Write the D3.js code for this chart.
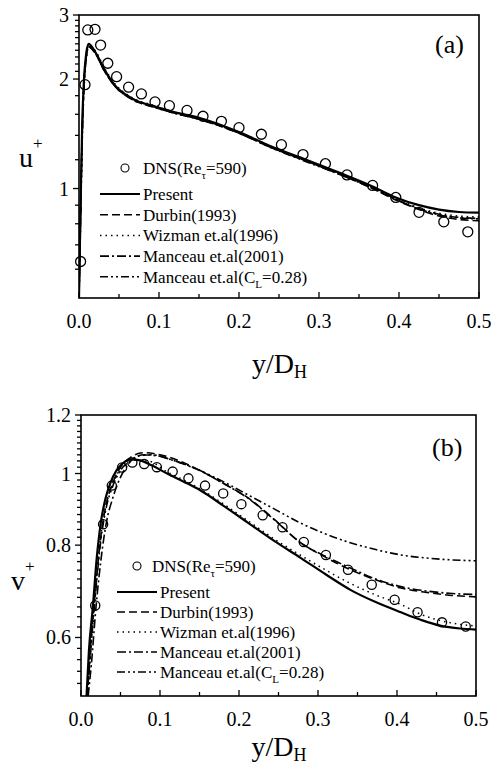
<!DOCTYPE html>
<html lang="en">
<head>
<meta charset="utf-8">
<title>u+ and v+ profiles</title>
<script src="https://cdn.jsdelivr.net/npm/d3@7"></script>
<style>
  body { margin: 0; background: #fff; }
  svg, svg text { font-family: "Liberation Serif", "DejaVu Serif", "Times New Roman", Times, serif; }
  .frame { fill: none; stroke: #000; stroke-width: 1.6; }
  .tick { stroke: #000; stroke-width: 1.3; }
</style>
</head>
<body>
<script>
// x axis (both panels)
var xTicks = [0, 0.1, 0.2, 0.3, 0.4, 0.5];
var xMinor = [0.05, 0.15, 0.25, 0.35, 0.45];

// panel (a): u+
var uTicks = [1, 2, 3];
var uMinor = [0.6, 0.7, 0.8, 0.9, 1.2, 1.4, 1.6, 1.8, 2.1, 2.2, 2.3, 2.4, 2.5, 2.6, 2.7, 2.8, 2.9];
var uDnsX = [0.002, 0.0075, 0.011, 0.02, 0.027, 0.036, 0.047, 0.062, 0.078, 0.095, 0.113, 0.135, 0.155, 0.178, 0.2, 0.228, 0.253, 0.28, 0.308, 0.335, 0.367, 0.396, 0.425, 0.456, 0.486];
var uDnsY = [0.63, 1.93, 2.73, 2.74, 2.48, 2.21, 2.03, 1.9, 1.82, 1.73, 1.69, 1.64, 1.58, 1.53, 1.47, 1.41, 1.32, 1.24, 1.17, 1.09, 1.02, 0.945, 0.86, 0.81, 0.76];
var uLineX = [0, 0.002, 0.004, 0.006, 0.009, 0.012, 0.02, 0.032, 0.045, 0.066, 0.095, 0.12, 0.15, 0.2, 0.242, 0.284, 0.325, 0.367, 0.396, 0.425, 0.45, 0.475, 0.5];
var uPresent   = [0.5, 0.9, 1.5, 1.95, 2.35, 2.5, 2.38, 2.12, 1.92, 1.77, 1.68, 1.62, 1.565, 1.43, 1.3, 1.2, 1.106, 1.013, 0.945, 0.9, 0.875, 0.862, 0.858];
var uDurbin    = [0.5, 0.85, 1.4, 1.9, 2.3, 2.45, 2.36, 2.1, 1.91, 1.76, 1.67, 1.61, 1.55, 1.42, 1.29, 1.19, 1.095, 1.0, 0.93, 0.875, 0.84, 0.822, 0.815];
var uWizman    = [0.5, 0.8, 1.3, 1.8, 2.25, 2.45, 2.4, 2.14, 1.94, 1.78, 1.69, 1.62, 1.56, 1.43, 1.3, 1.19, 1.1, 1.005, 0.937, 0.885, 0.855, 0.84, 0.835];
var uManceau01 = [0.5, 0.88, 1.45, 1.9, 2.3, 2.48, 2.37, 2.11, 1.92, 1.77, 1.68, 1.61, 1.555, 1.42, 1.295, 1.19, 1.1, 1.005, 0.935, 0.88, 0.85, 0.833, 0.828];
var uManceauCL = [0.5, 0.85, 1.42, 1.88, 2.28, 2.46, 2.36, 2.1, 1.91, 1.76, 1.67, 1.61, 1.55, 1.42, 1.29, 1.185, 1.095, 1.0, 0.932, 0.878, 0.846, 0.83, 0.825];

// panel (b): v+
var vTicks = [0.6, 0.8, 1, 1.2];
var vMinor = [0.52, 0.54, 0.56, 0.58, 0.62, 0.64, 0.66, 0.68, 0.7, 0.72, 0.74, 0.76, 0.78, 0.82, 0.84, 0.86, 0.88, 0.9, 0.92, 0.94, 0.96, 0.98, 1.02, 1.04, 1.06, 1.08, 1.1, 1.12, 1.14, 1.16, 1.18];
var vDnsX = [0.018, 0.028, 0.039, 0.052, 0.065, 0.08, 0.096, 0.116, 0.136, 0.157, 0.18, 0.203, 0.23, 0.255, 0.282, 0.31, 0.338, 0.368, 0.397, 0.426, 0.457, 0.487];
var vDnsY = [0.663, 0.854, 0.963, 1.019, 1.035, 1.03, 1.02, 1.006, 0.985, 0.963, 0.94, 0.909, 0.878, 0.846, 0.808, 0.776, 0.741, 0.707, 0.675, 0.649, 0.629, 0.621];
var vPresentX = [0.007, 0.01, 0.015, 0.02, 0.025, 0.031, 0.037, 0.045, 0.052, 0.063, 0.075, 0.09, 0.109, 0.13, 0.151, 0.18, 0.212, 0.245, 0.278, 0.31, 0.341, 0.373, 0.405, 0.43, 0.456, 0.48, 0.5];
var vPresent  = [0.5, 0.575, 0.66, 0.77, 0.857, 0.925, 0.97, 1.01, 1.03, 1.045, 1.042, 1.025, 1.0, 0.975, 0.949, 0.905, 0.857, 0.81, 0.769, 0.73, 0.696, 0.67, 0.649, 0.634, 0.622, 0.617, 0.615];
var vDurbinX = [0.008, 0.012, 0.018, 0.025, 0.032, 0.04, 0.05, 0.062, 0.079, 0.1, 0.125, 0.15, 0.18, 0.212, 0.245, 0.278, 0.31, 0.341, 0.373, 0.405, 0.44, 0.47, 0.5];
var vDurbin  = [0.5, 0.58, 0.69, 0.82, 0.91, 0.97, 1.02, 1.05, 1.067, 1.06, 1.04, 1.01, 0.97, 0.926, 0.866, 0.806, 0.77, 0.741, 0.718, 0.7, 0.69, 0.684, 0.681];
var vWizmanX = [0.008, 0.012, 0.017, 0.023, 0.03, 0.037, 0.045, 0.055, 0.068, 0.085, 0.109, 0.13, 0.151, 0.18, 0.212, 0.245, 0.278, 0.31, 0.341, 0.373, 0.405, 0.43, 0.456, 0.48, 0.5];
var vWizman  = [0.5, 0.57, 0.67, 0.79, 0.89, 0.95, 0.995, 1.025, 1.042, 1.04, 1.005, 0.98, 0.953, 0.91, 0.862, 0.815, 0.775, 0.74, 0.71, 0.685, 0.665, 0.645, 0.632, 0.625, 0.622];
var vManceau01X = [0.009, 0.013, 0.019, 0.025, 0.032, 0.04, 0.047, 0.06, 0.075, 0.09, 0.113, 0.15, 0.18, 0.212, 0.245, 0.278, 0.31, 0.341, 0.373, 0.405, 0.44, 0.47, 0.5];
var vManceau01  = [0.5, 0.55, 0.66, 0.76, 0.857, 0.925, 0.972, 1.03, 1.058, 1.06, 1.045, 1.01, 0.97, 0.925, 0.865, 0.806, 0.772, 0.745, 0.72, 0.703, 0.693, 0.688, 0.686];
var vManceauCLX = [0.008, 0.012, 0.018, 0.025, 0.032, 0.04, 0.05, 0.062, 0.08, 0.1, 0.113, 0.15, 0.18, 0.212, 0.245, 0.278, 0.31, 0.341, 0.373, 0.405, 0.44, 0.47, 0.5];
var vManceauCL  = [0.5, 0.57, 0.68, 0.81, 0.9, 0.96, 1.01, 1.04, 1.06, 1.055, 1.045, 1.01, 0.975, 0.935, 0.895, 0.857, 0.828, 0.806, 0.789, 0.776, 0.768, 0.764, 0.762];

var seriesNames = ["Present", "Durbin(1993)", "Wizman et.al(1996)", "Manceau et.al(2001)", "Manceau et.al(C"];
var seriesDash = [null, "8,4", "1.5,4", "9,3,2,3", "8,3,2,3,2,3"];
var seriesWidth = [2.2, 1.6, 1.5, 1.6, 1.6];

var w = 495, h = 773;
var svg = d3.select("body").append("svg").attr("width", w).attr("height", h)
  .attr("font-family", "'Liberation Serif', 'DejaVu Serif', serif");

function zip(xs, ys) { return xs.map(function(x, i) { return [x, ys[i]]; }); }

function drawPanel(cfg) {
  var x = d3.scaleLinear().domain([0, 0.5]).range([cfg.left, cfg.right]);
  var y = d3.scaleLog().domain(cfg.yDomain).range([cfg.bottom, cfg.top]);
  var g = svg.append("g");

  var clipId = "clip" + cfg.id;
  g.append("clipPath").attr("id", clipId).append("rect")
    .attr("x", cfg.left).attr("y", cfg.top)
    .attr("width", cfg.right - cfg.left).attr("height", cfg.bottom - cfg.top);

  // x ticks (inward)
  g.selectAll(".xt").data(xTicks).enter().append("line").attr("class", "tick")
    .attr("x1", d => x(d)).attr("x2", d => x(d))
    .attr("y1", cfg.bottom).attr("y2", cfg.bottom - 6);
  g.selectAll(".xm").data(xMinor).enter().append("line").attr("class", "tick")
    .attr("x1", d => x(d)).attr("x2", d => x(d))
    .attr("y1", cfg.bottom).attr("y2", cfg.bottom - 4);
  g.selectAll(".xl").data(xTicks).enter().append("text")
    .attr("x", d => x(d)).attr("y", cfg.bottom + 30)
    .attr("text-anchor", "middle").attr("font-size", 20)
    .text(d => d3.format(".1f")(d));

  // y ticks (outward)
  g.selectAll(".yt").data(cfg.yTicks).enter().append("line").attr("class", "tick")
    .attr("x1", cfg.left).attr("x2", cfg.left - 6)
    .attr("y1", d => y(d)).attr("y2", d => y(d));
  g.selectAll(".ym").data(cfg.yMinor).enter().append("line").attr("class", "tick")
    .attr("x1", cfg.left).attr("x2", cfg.left - 4)
    .attr("y1", d => y(d)).attr("y2", d => y(d));
  g.selectAll(".yl").data(cfg.yTicks).enter().append("text")
    .attr("x", cfg.left - 10).attr("y", d => y(d) + 7)
    .attr("text-anchor", "end").attr("font-size", 20)
    .text(d => String(d));

  // frame
  g.append("rect").attr("class", "frame")
    .attr("x", cfg.left).attr("y", cfg.top)
    .attr("width", cfg.right - cfg.left).attr("height", cfg.bottom - cfg.top);

  // model lines
  var line = d3.line().x(d => x(d[0])).y(d => y(d[1])).curve(d3.curveMonotoneX);
  cfg.lines.forEach(function(s, i) {
    g.append("path").attr("clip-path", "url(#" + clipId + ")")
      .attr("d", line(s))
      .attr("fill", "none").attr("stroke", "#000")
      .attr("stroke-width", seriesWidth[i])
      .attr("stroke-dasharray", seriesDash[i]);
  });

  // DNS circles
  g.selectAll(".dns").data(cfg.dns).enter().append("circle")
    .attr("cx", d => x(d[0])).attr("cy", d => y(d[1])).attr("r", cfg.r)
    .attr("fill", "none").attr("stroke", "#000").attr("stroke-width", 1.3);

  // panel label
  g.append("text").attr("x", cfg.labelX).attr("y", cfg.labelY)
    .attr("font-size", 26).text(cfg.label);

  // axis titles
  var xt = g.append("text").attr("x", (cfg.left + cfg.right) / 2 - 27).attr("y", cfg.xTitleY)
    .attr("font-size", 28);
  xt.append("tspan").text("y/D");
  xt.append("tspan").attr("font-size", 18).attr("dy", 5).text("H");

  var yt = g.append("text").attr("x", cfg.yTitleX).attr("y", cfg.yTitleY).attr("font-size", 28);
  yt.append("tspan").text(cfg.yName);
  yt.append("tspan").attr("font-size", 17).attr("dy", -18).text("+");

  // legend
  var L = cfg.legend;
  g.append("circle").attr("cx", L.cx).attr("cy", L.y0).attr("r", 4)
    .attr("fill", "none").attr("stroke", "#000").attr("stroke-width", 1.1);
  var t0 = g.append("text").attr("x", L.textX0).attr("y", L.y0 + 6).attr("font-size", 17);
  t0.append("tspan").text("DNS(Re");
  t0.append("tspan").attr("font-size", 11).attr("dy", 5).text("τ");
  t0.append("tspan").attr("dy", -5).text("=590)");

  seriesNames.forEach(function(name, i) {
    var yy = L.y1 + i * L.step;
    g.append("line").attr("x1", L.lx1).attr("x2", L.lx2).attr("y1", yy).attr("y2", yy)
      .attr("stroke", "#000").attr("stroke-width", seriesWidth[i])
      .attr("stroke-dasharray", seriesDash[i]);
    var t = g.append("text").attr("x", L.lx2 + 3).attr("y", yy + 6).attr("font-size", 17);
    t.append("tspan").text(name);
    if (i === 4) {
      t.append("tspan").attr("font-size", 11).attr("dy", 5).text("L");
      t.append("tspan").attr("dy", -5).text("=0.28)");
    }
  });
}

drawPanel({
  id: "a", left: 79, right: 479, top: 15, bottom: 298,
  yDomain: [0.5, 3], yTicks: uTicks, yMinor: uMinor,
  dns: zip(uDnsX, uDnsY), r: 5,
  lines: [zip(uLineX, uPresent), zip(uLineX, uDurbin), zip(uLineX, uWizman), zip(uLineX, uManceau01), zip(uLineX, uManceauCL)],
  label: "(a)", labelX: 435, labelY: 53,
  xTitleY: 373,
  yName: "u", yTitleX: 19, yTitleY: 167,
  legend: { cx: 125, y0: 168, textX0: 143, y1: 194, step: 20.7, lx1: 100, lx2: 140 }
});

drawPanel({
  id: "b", left: 81, right: 476, top: 415, bottom: 696,
  yDomain: [0.5, 1.2], yTicks: vTicks, yMinor: vMinor,
  dns: zip(vDnsX, vDnsY), r: 4.6,
  lines: [zip(vPresentX, vPresent), zip(vDurbinX, vDurbin), zip(vWizmanX, vWizman), zip(vManceau01X, vManceau01), zip(vManceauCLX, vManceauCL)],
  label: "(b)", labelX: 432, labelY: 456,
  xTitleY: 756,
  yName: "v", yTitleX: 11, yTitleY: 590,
  legend: { cx: 137, y0: 566, textX0: 152, y1: 592, step: 20, lx1: 117, lx2: 157 }
});
</script>
</body>
</html>
